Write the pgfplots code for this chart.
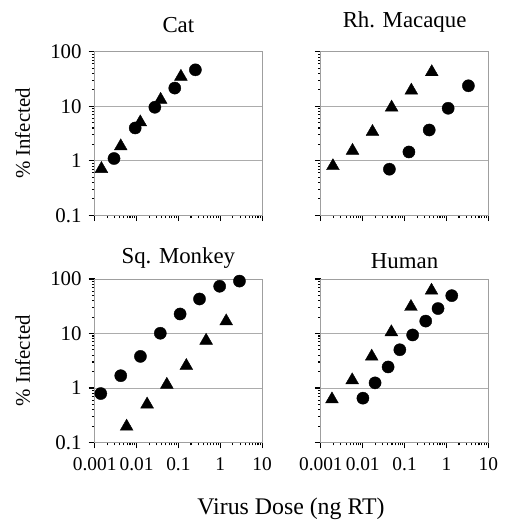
\documentclass[border=0pt]{standalone}
\usepackage{fontspec}
\setmainfont{Liberation Serif}
\usepackage{pgfplots}
\pgfplotsset{compat=1.18}
\usepgfplotslibrary{groupplots}

\pgfplotsset{
  circ/.style={only marks, mark=*, mark size=6.1bp, black, mark options={fill=black}},
  tri/.style={only marks, mark=triangle*, mark size=7.4bp, black, mark options={fill=black}},
}

\begin{document}
\fontsize{21}{25}\selectfont
\begin{tikzpicture}
\begin{groupplot}[
  group style={group size=2 by 2, horizontal sep=59bp, vertical sep=64bp, group name=G},
  scale only axis, width=168bp, height=164bp,
  xmode=log, ymode=log,
  xmin=0.001, xmax=10, ymin=0.1, ymax=100,
  xtick={0.001,0.01,0.1,1,10}, ytick={0.1,1,10,100},
  minor xtick={}, minor ytick={},
  xtick pos=lower, ytick pos=left,
  tick align=outside, major tick length=6bp,
  tick style={black, line width=1.1pt},
  axis line style={gray!75, line width=0.9pt},
  ymajorgrids, grid style={gray!65, line width=0.9pt},
  yticklabel style={font=\fontsize{21}{25}\selectfont},
  xticklabel style={font=\fontsize{19.5}{23}\selectfont, yshift=-2bp},
  /pgf/number format/assume math mode=true,
  xticklabels={}, yticklabels={},
  title style={font=\fontsize{23}{27}\selectfont},
  ylabel style={font=\fontsize{23}{27}\selectfont},
  every axis y label/.style={at={(axis description cs:-0.43,0.5)}, rotate=90, anchor=center},
  clip=false,
]
\nextgroupplot[title={Cat}, title style={yshift=6bp},
  yticklabels={0.1,1,10,100}, ylabel={\% Infected}]
\addplot[circ] coordinates {(0.0029,1.1) (0.0093,4.0) (0.0274,9.6) (0.082,21.6) (0.255,46.7)};
\addplot[tri] coordinates {(0.00145,0.71) (0.0042,1.85) (0.0123,5.1) (0.0377,13.2) (0.115,35)};

\nextgroupplot[title={Rh. Macaque}, title style={yshift=6bp}]
\addplot[circ] coordinates {(0.0434,0.70) (0.127,1.45) (0.388,3.67) (1.1,9.2) (3.35,23.8)};
\addplot[tri] coordinates {(0.00194,0.8) (0.0057,1.53) (0.0171,3.4) (0.049,9.5) (0.145,19.5) (0.446,42.5)};

\nextgroupplot[title={Sq. Monkey}, title style={yshift=-3bp},
  yticklabels={0.1,1,10,100}, ylabel={\% Infected},
  xticklabels={0.001,0.01,0.1,1,10}]
\addplot[circ] coordinates {(0.0014,0.79) (0.0042,1.68) (0.0124,3.8) (0.037,10.1) (0.11,22.8) (0.32,43) (0.97,73.6) (2.88,91.6)};
\addplot[tri] coordinates {(0.0058,0.196) (0.0179,0.5) (0.053,1.15) (0.155,2.55) (0.46,7.4) (1.39,16.8)};

\nextgroupplot[title={Human}, title style={yshift=-3bp},
  xticklabels={0.001,0.01,0.1,1,10}]
\addplot[circ] coordinates {(0.0101,0.65) (0.0197,1.24) (0.0404,2.43) (0.077,5.03) (0.156,9.4) (0.32,16.9) (0.63,28.7) (1.34,49.5)};
\addplot[tri] coordinates {(0.00184,0.62) (0.0056,1.39) (0.0164,3.78) (0.0483,10.6) (0.142,30.9) (0.44,61.4)};
\end{groupplot}
\node[anchor=center, font=\fontsize{24}{28}\selectfont] at ([shift={(197bp,-459bp)}]G c1r1.north west) {Virus Dose (ng RT)};
\path ([shift={(-95bp,52bp)}]G c1r1.north west) rectangle ([shift={(412bp,-475bp)}]G c1r1.north west);
\end{tikzpicture}
\end{document}
